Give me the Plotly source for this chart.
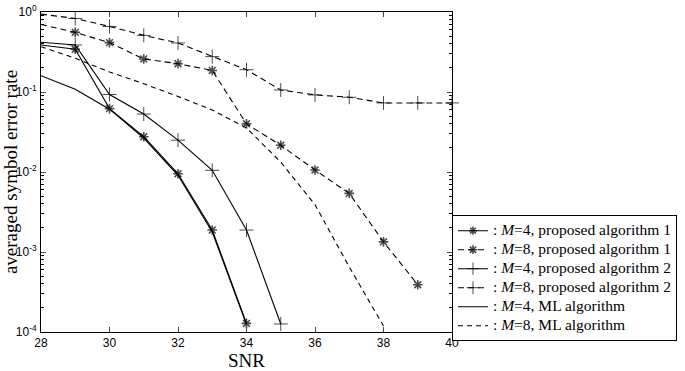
import plotly.graph_objects as go

snr = [28, 29, 30, 31, 32, 33, 34, 35, 36, 37, 38, 39, 40]

m4_alg1 = [0.387, 0.342, 0.062, 0.0276, 0.0095, 0.00188, 0.000128]
m8_alg1 = [0.70, 0.556, 0.414, 0.259, 0.226, 0.186, 0.040, 0.0216, 0.0106, 0.0054, 0.00134, 0.00039]
m4_alg2 = [0.418, 0.387, 0.093, 0.053, 0.025, 0.0105, 0.00188, 0.000126]
m8_alg2 = [0.94, 0.83, 0.66, 0.51, 0.41, 0.277, 0.19, 0.106, 0.092, 0.086, 0.073, 0.073, 0.073]
m4_ml = [0.16, 0.108, 0.061, 0.0265, 0.0091, 0.00178, 0.000124]
m8_ml = [0.368, 0.264, 0.178, 0.127, 0.088, 0.0596, 0.0355, 0.0133, 0.0039, 0.00065, 0.000119]

names = [
    ": <i>M</i>=4, proposed algorithm 1",
    ": <i>M</i>=8, proposed algorithm 1",
    ": <i>M</i>=4, proposed algorithm 2",
    ": <i>M</i>=8, proposed algorithm 2",
    ": <i>M</i>=4, ML algorithm",
    ": <i>M</i>=8, ML algorithm",
]

ytick_vals = [1e-4, 1e-3, 1e-2, 1e-1, 1]
ytick_text = ["10<sup>-4</sup>", "10<sup>-3</sup>", "10<sup>-2</sup>", "10<sup>-1</sup>", "10<sup>0</sup>"]
xtick_vals = [28, 30, 32, 34, 36, 38, 40]

series = [m4_alg1, m8_alg1, m4_alg2, m8_alg2, m4_ml, m8_ml]
dashes = ["solid", "6px,4px", "solid", "6px,4px", "solid", "5px,4px"]
symbols = ["asterisk-open", "asterisk-open", "cross-thin-open", "cross-thin-open", None, None]

fig = go.Figure()
for ys, nm, dsh, sym in zip(series, names, dashes, symbols):
    xs = snr[:len(ys)]
    if sym is None:
        mode = "lines"
        marker = None
    else:
        mode = "lines+markers"
        sz = 8 if sym.startswith("asterisk") else 10
        lw = 1.6 if sym.startswith("asterisk") else 1
        marker = dict(symbol=sym, size=[0] + [sz] * (len(ys) - 1),
                      color="black", line=dict(color="black", width=lw))
    fig.add_trace(go.Scatter(
        x=xs, y=ys, name='<span style="font-size:15.5px">' + nm + '</span>', mode=mode,
        line=dict(color="black", width=1.1, dash=dsh),
        marker=marker, cliponaxis=False,
    ))

minor_vals = [m * 10 ** e for e in range(-4, 0) for m in range(2, 10)]

fig.update_layout(
    width=685, height=371,
    margin=dict(l=41, r=233, t=12, b=39, autoexpand=False),
    paper_bgcolor="white", plot_bgcolor="white",
    showlegend=True,
    legend=dict(
        x=1.0, xanchor="left", y=0.365, yanchor="top",
        bordercolor="black", borderwidth=1, bgcolor="white",
        font=dict(family="Liberation Serif", size=12, color="black"),
        itemwidth=30, tracegroupgap=0,
    ),
    font=dict(family="Liberation Sans", size=12, color="black"),
)
fig.update_xaxes(
    range=[28, 40], tickvals=xtick_vals, ticks="inside", ticklen=5,
    showline=True, linecolor="black", linewidth=1, mirror="allticks",
    showgrid=False, zeroline=False,
    tickfont=dict(family="Liberation Sans", size=12),
    title=dict(text="SNR", font=dict(family="Liberation Serif", size=19), standoff=4),
)
fig.update_yaxes(
    type="log", range=[-4, 0], tickvals=ytick_vals, ticktext=ytick_text,
    ticks="inside", ticklen=5,
    minor=dict(tickvals=minor_vals, ticks="inside", ticklen=3, tickcolor="black", showgrid=False),
    showline=True, linecolor="black", linewidth=1, mirror="allticks",
    showgrid=False, zeroline=False, ticklabelstandoff=1,
    tickfont=dict(family="Liberation Sans", size=12),
    title=dict(text="averaged symbol error rate", font=dict(family="Liberation Serif", size=19), standoff=1),
)

fig.write_html("out.html", config={"displayModeBar": False},
               post_script="document.body.style.margin='0';")
